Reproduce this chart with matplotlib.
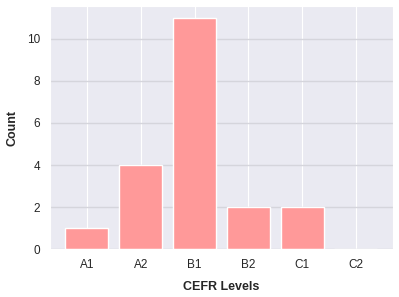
import matplotlib
matplotlib.use("Agg")
import matplotlib.pyplot as plt
import seaborn as sns

# niveles CEFR y conteos
niveles = ["A1", "A2", "B1", "B2", "C1", "C2"]
conteos = [1, 4, 11, 2, 2, 0]

sns.set_style("darkgrid")
plt.rcParams['font.family'] = ['Arial', 'Liberation Sans', 'DejaVu Sans']

fig, ax = plt.subplots(figsize=(3.99, 2.97), dpi=100)
ax.bar(niveles, conteos, width=0.8, color="#ff9999")
ax.grid(axis="y", color="#d5d5dc", linewidth=1.0)
ax.set_axisbelow(True)

ax.set_xlabel("CEFR Levels", fontsize=9, fontweight="bold", labelpad=7)
ax.set_ylabel("Count", fontsize=9, fontweight="bold", labelpad=6)
ax.tick_params(labelsize=8.5)

fig.subplots_adjust(left=0.125, right=0.985, top=0.98, bottom=0.16)
fig.savefig("out.png", dpi=100)
